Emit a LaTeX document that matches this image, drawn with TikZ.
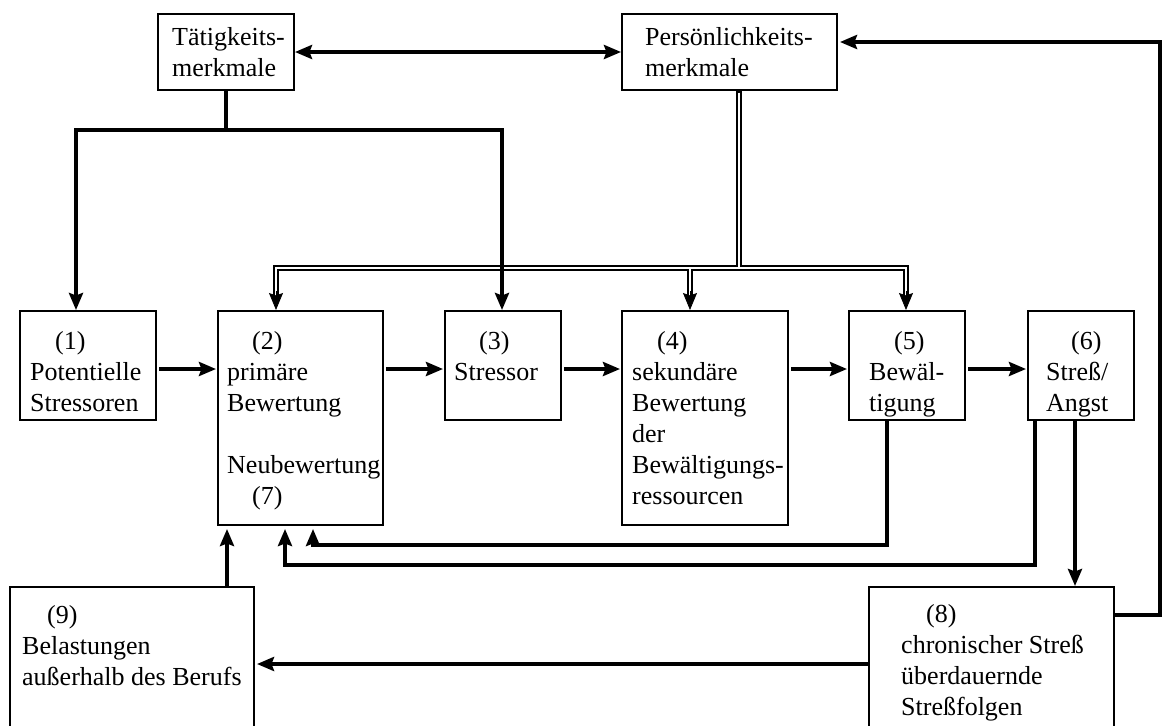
\documentclass[tikz,border=0pt]{standalone}
\usepackage{fontspec}
\setmainfont{Liberation Serif}
\usetikzlibrary{arrows.meta,calc}
\newcommand\numind{\hspace*{25pt}}
\begin{document}
\begin{tikzpicture}[x=1pt,y=-1pt,
  >={Stealth[length=17pt,width=14pt,inset=2.5pt]},
  box/.style={draw=black, line width=2pt, rectangle, inner sep=0pt, anchor=north west},
  lbl/.style={inner sep=0pt, anchor=north west, align=left, font=\fontsize{26}{31}\selectfont},
  conn/.style={line width=3.6pt, ->},
  bidir/.style={line width=3.6pt, <->},
  dblout/.style={line width=5.4pt, black},
  dblin/.style={line width=2pt, white},
  headonly/.style={line width=0.8pt, ->}
]
\path[use as bounding box] (0,0) rectangle (1163,726);
\clip (0,0) rectangle (1163,726);

% boxes
\node[box, minimum width=136pt, minimum height=76pt]  (T)  at (157,13)  {};
\node[box, minimum width=215pt, minimum height=76pt]  (P)  at (621,13)  {};
\node[box, minimum width=136pt, minimum height=109pt] (b1) at (19,310)  {};
\node[box, minimum width=165pt, minimum height=214pt] (b2) at (217,310) {};
\node[box, minimum width=116pt, minimum height=109pt] (b3) at (444,310) {};
\node[box, minimum width=166pt, minimum height=214pt] (b4) at (621,310) {};
\node[box, minimum width=116pt, minimum height=109pt] (b5) at (848,310) {};
\node[box, minimum width=106pt, minimum height=109pt] (b6) at (1027,310) {};
\node[box, minimum width=245pt, minimum height=200pt] (b8) at (868,586) {};
\node[box, minimum width=244pt, minimum height=200pt] (b9) at (9,586)   {};

% box texts
\node[lbl] (tT) at (172,23.3) {\strut Tätigkeits-\\\strut merkmale};
\node[lbl] (tP) at (645,23.3) {\strut Persönlichkeits-\\\strut merkmale};
\node[lbl] (t1) at (30,327.3)  {\strut\numind(1)\\\strut Potentielle\\\strut Stressoren};
\node[lbl] (t2) at (227,327.3) {\strut\numind(2)\\\strut primäre\\\strut Bewertung\\\strut\\\strut Neubewertung\\\strut\numind(7)};
\node[lbl] (t3) at (454,327.3) {\strut\numind(3)\\\strut Stressor};
\node[lbl] (t4) at (632,327.3) {\strut\numind(4)\\\strut sekundäre\\\strut Bewertung\\\strut der\\\strut Bewältigungs-\\\strut ressourcen};
\node[lbl] (t5) at (869,327.3) {\strut\numind(5)\\\strut Bewäl-\\\strut tigung};
\node[lbl] (t6) at (1046,327.3) {\strut\numind(6)\\\strut Streß/\\\strut Angst};
\node[lbl] (t8) at (901,600.3) {\strut\numind(8)\\\strut chronischer Streß\\\strut überdauernde\\\strut Streßfolgen};
\node[lbl] (t9) at (22,601.3)  {\strut\numind(9)\\\strut Belastungen\\\strut außerhalb des Berufs};

% routing points
\coordinate (pj) at (739,268);
\coordinate (d2) at (276,268);
\coordinate (d4) at (690,268);
\coordinate (d5) at (906,268);
\coordinate (e2) at (276,298);
\coordinate (e4) at (690,298);
\coordinate (e5) at (906,298);
\coordinate (h2) at (276,291);
\coordinate (h4) at (690,291);
\coordinate (h5) at (906,291);

% double-line tree from Persönlichkeitsmerkmale: outer strokes, then cores
\draw[dblout] (P.south -| pj) -- (pj);
\draw[dblout] (e2) -- (d2) -- (d5) -- (e5);
\draw[dblout] (d4) -- (e4);
\draw[dblin, shorten <=1.5pt] (P.south -| pj) -- (pj);
\draw[dblin] (e2) -- (d2) -- (d5) -- (e5);
\draw[dblin] (d4) -- (e4);
\draw[headonly] (h2) -- (b2.north -| h2);
\draw[headonly] (h4) -- (b4.north -| h4);
\draw[headonly] (h5) -- (b5.north -| h5);

% Tätigkeitsmerkmale to (1) and (3)
\coordinate (tj) at (226,130);
\coordinate (tl) at (76,130);
\coordinate (tr) at (502,130);
\draw[conn] (T.south -| tj) -- (tj) -- (tl) -- (b1.north -| tl);
\draw[conn] (tj) -- (tr) -- (b3.north -| tr);

% mutual link between the two feature boxes
\coordinate (tp) at (0,52);
\draw[bidir] (T.east |- tp) -- (P.west |- tp);

% main chain
\coordinate (row) at (0,369);
\draw[conn, shorten <=2pt, shorten >=1pt] (b1.east |- row) -- (b2.west |- row);
\draw[conn, shorten <=2pt, shorten >=1pt] (b2.east |- row) -- (b3.west |- row);
\draw[conn, shorten <=2pt, shorten >=1pt] (b3.east |- row) -- (b4.west |- row);
\draw[conn, shorten <=2pt, shorten >=1pt] (b4.east |- row) -- (b5.west |- row);
\draw[conn, shorten <=2pt, shorten >=1pt] (b5.east |- row) -- (b6.west |- row);

% feedback to reappraisal
\coordinate (f5) at (887,545);
\coordinate (f5e) at (313,545);
\draw[conn, shorten >=3pt] (b5.south -| f5) -- (f5) -- (f5e) -- (b2.south -| f5e);
\coordinate (f6) at (1035,565);
\coordinate (f6e) at (285,565);
\draw[conn, shorten >=3pt] (b6.south -| f6) -- (f6) -- (f6e) -- (b2.south -| f6e);

% chronic stress and its consequences
\coordinate (s8) at (1075,0);
\draw[conn] (b6.south -| s8) -- (b8.north -| s8);
\coordinate (r9) at (0,664);
\draw[conn, shorten >=2pt] (b8.west |- r9) -- (b9.east |- r9);
\coordinate (u9) at (227,0);
\draw[conn, shorten >=3pt] (b9.north -| u9) -- (b2.south -| u9);
\coordinate (rb) at (1160,615);
\coordinate (rt) at (1160,42);
\draw[conn, shorten >=2pt] (b8.east |- rb) -- (rb) -- (rt) -- (P.east |- rt);
\end{tikzpicture}
\end{document}
